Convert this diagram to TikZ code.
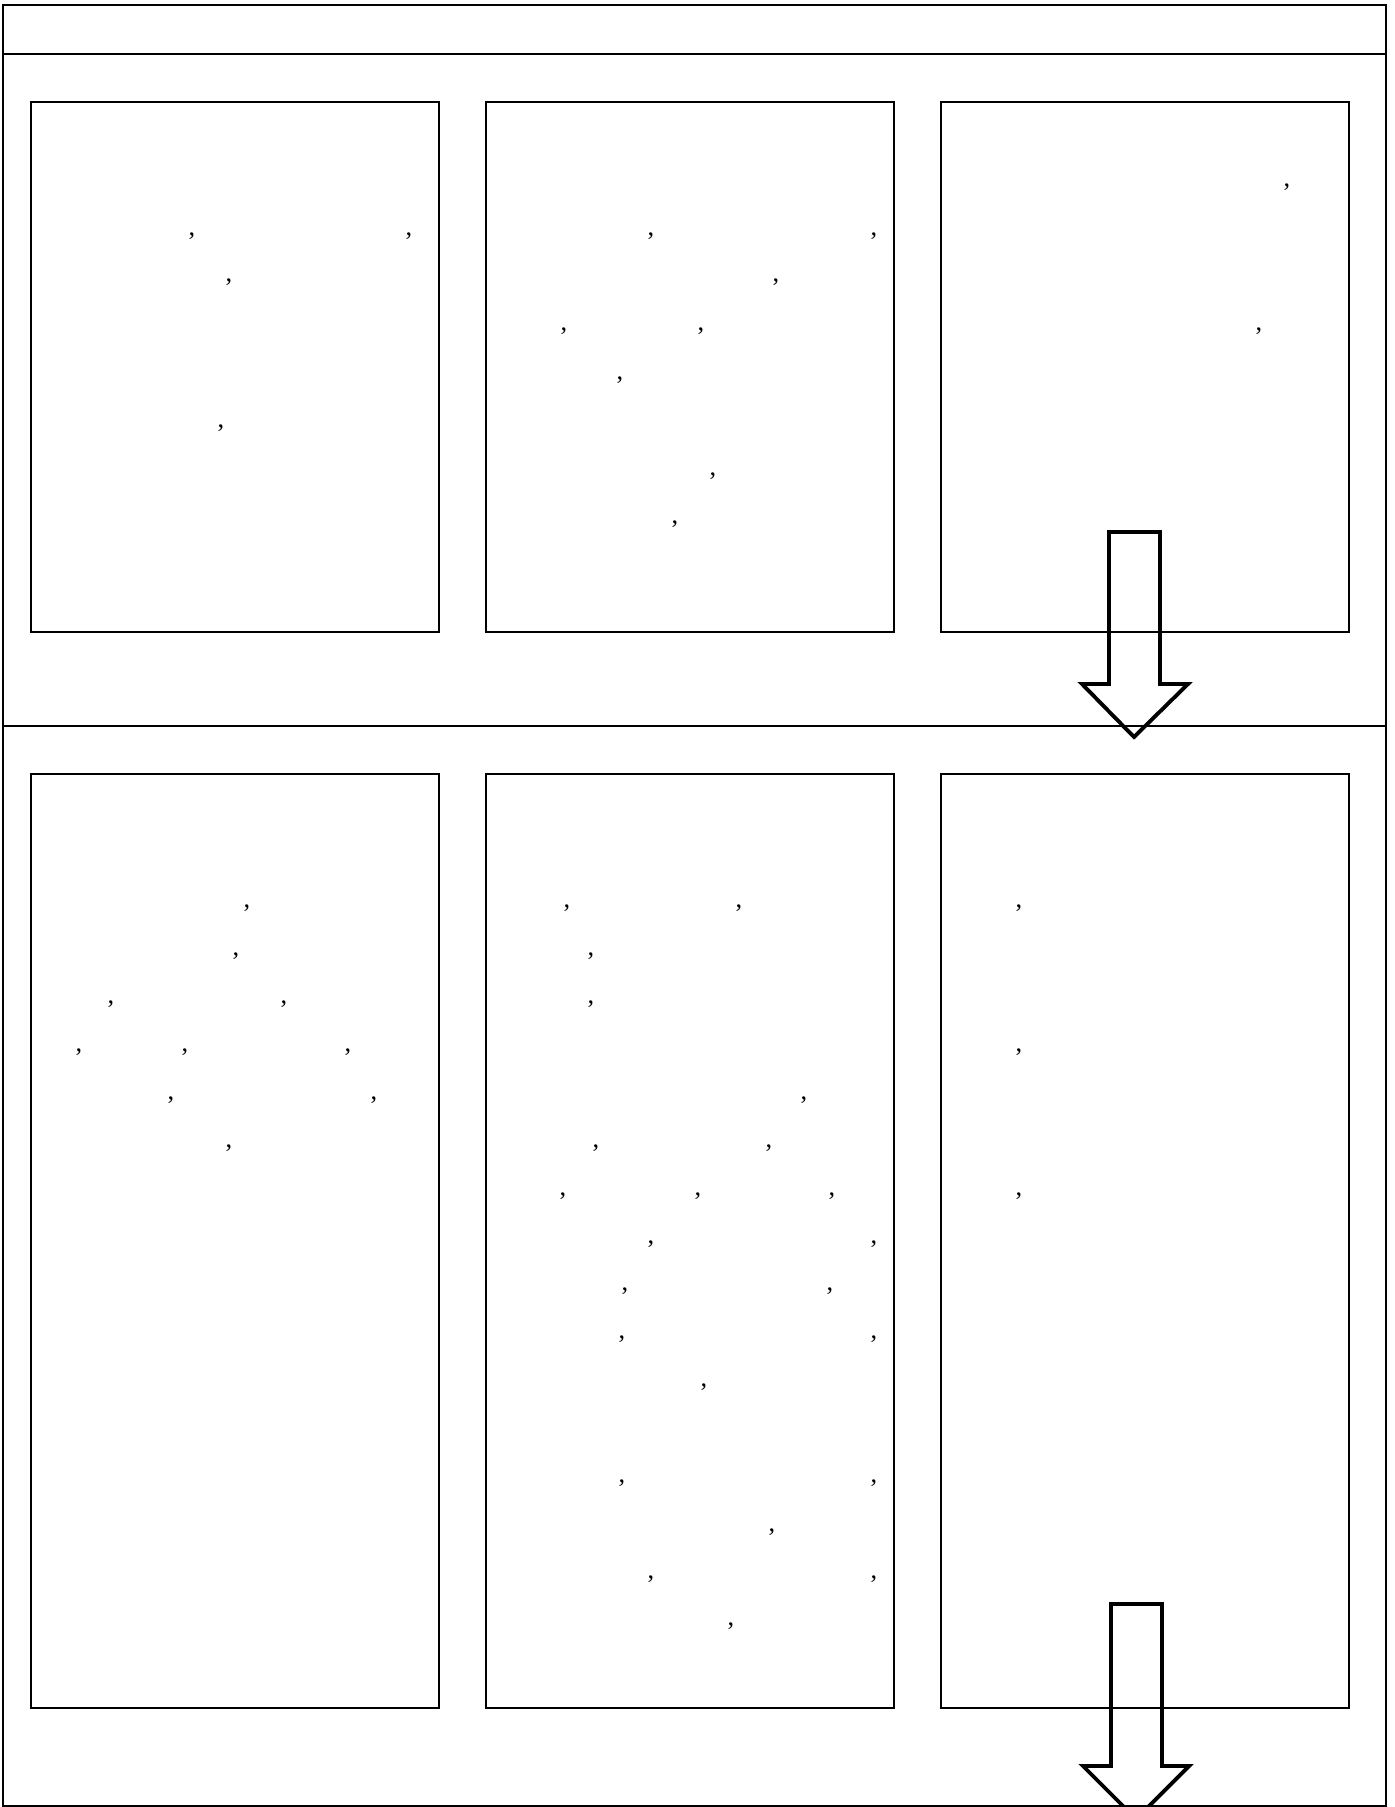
\documentclass[tikz,border=0pt]{standalone}
\usepackage{fontspec}
\setmainfont{Liberation Serif}

\begin{document}
\begin{tikzpicture}[
    x=0.02cm, y=-0.02cm,
    % Style for the outer frame lines
    frameStyle/.style={
        draw=black,
        line width=0.9pt
    },
    % Style for the three panels in each band
    panelBox/.style={
        draw=black,
        line width=1pt,
        anchor=north west,
        inner sep=0pt,
        minimum width=8.16cm
    },
    % Style for the commas left in the text
    markText/.style={
        font=\fontsize{15}{17}\selectfont,
        anchor=base,
        inner sep=0pt
    },
    % Style for the hollow block arrows
    blockArrow/.style={
        draw=black,
        line width=2.2pt,
        line join=miter
    }
]

    % --- PAGE ---
    \useasboundingbox (0,0) rectangle (1394,1807);
    \def\dx{2} % small shift of the commas to the right

    % --- FRAME ---
    \draw[frameStyle] (3,5) rectangle (1386,1806);
    \draw[frameStyle] (3,54) -- (1386,54);
    \draw[frameStyle] (3,726) -- (1386,726);

    % --- TOP BAND ---
    \node[panelBox, minimum height=10.6cm] (topA) at (30,101) {};
    \node[panelBox, minimum height=10.6cm] (topB) at (485,101) {};
    \node[panelBox, minimum height=10.6cm] (topC) at (940,101) {};

    % --- BOTTOM BAND ---
    \node[panelBox, minimum height=18.68cm] (botA) at (30,773) {};
    \node[panelBox, minimum height=18.68cm] (botB) at (485,773) {};
    \node[panelBox, minimum height=18.68cm] (botC) at (940,773) {};

    % --- COMMAS, TOP ---
    \foreach \px/\py [count=\i] in {190/236, 407/236, 227/282, 219/427,
        649/236, 872/236, 774/282, 562/331, 699/331, 618/379, 711/475, 673/523,
        1285/187, 1257/331}
        \node[markText] (t\i) at (\px+\dx,\py) {,};

    % --- COMMAS, BOTTOM ---
    \foreach \px/\py [count=\i] in {245/907, 234/955, 109/1003, 282/1003,
        77/1051, 183/1051, 346/1051, 169/1099, 372/1099, 227/1147,
        565/907, 737/907, 589/955, 589/1003, 802/1099, 594/1147, 767/1147,
        561/1195, 696/1195, 830/1195, 649/1243, 872/1243, 623/1290, 828/1290,
        620/1338, 872/1338, 702/1386, 620/1482, 872/1482, 770/1531,
        649/1578, 872/1578, 729/1625,
        1017/907, 1017/1051, 1017/1195}
        \node[markText] (b\i) at (\px+\dx,\py) {,};

    % --- ARROWS ---
    \draw[blockArrow] (1109,532) -- (1160,532) -- (1160,684) -- (1188,684)
        -- (1134,737) -- (1082,684) -- (1109,684) -- cycle;
    \draw[blockArrow] (1111,1604) -- (1162,1604) -- (1162,1766) -- (1189,1766)
        -- (1136,1819) -- (1083,1766) -- (1111,1766) -- cycle;

\end{tikzpicture}
\end{document}
